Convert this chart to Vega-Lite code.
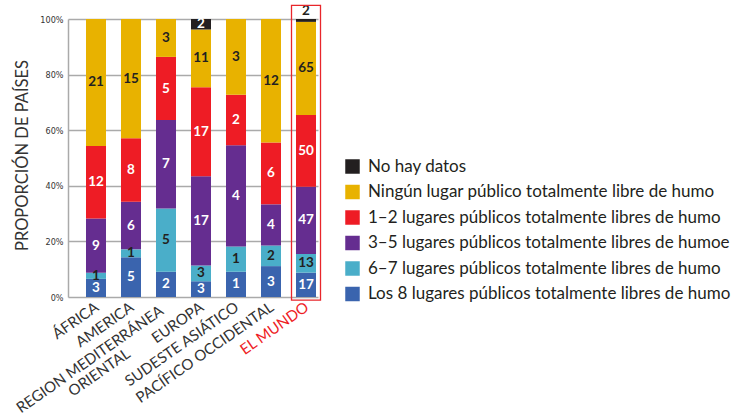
{
  "$schema": "https://vega.github.io/schema/vega-lite/v6.json",
  "width": 250,
  "height": 278,
  "autosize": {"type": "none"},
  "padding": {"left": 68, "top": 19, "right": 431, "bottom": 118},
  "background": "white",
  "config": {
    "font": "Lato",
    "view": {"stroke": null},
    "legend": {
      "orient": "none",
      "legendX": 276,
      "legendY": 139,
      "padding": 0,
      "symbolType": "square",
      "symbolSize": 210,
      "symbolStrokeWidth": 0,
      "symbolOpacity": 1,
      "labelFont": "Lato",
      "labelFontSize": 17,
      "labelColor": "#231f20",
      "labelOffset": 7,
      "labelLimit": 600,
      "rowPadding": 7.5
    }
  },
  "datasets": {
    "main": [
      {"region": "ÁFRICA", "cat": "Los 8 lugares públicos totalmente libres de humo", "ord": 1, "count": 3},
      {"region": "ÁFRICA", "cat": "6–7 lugares públicos totalmente libres de humo", "ord": 2, "count": 1},
      {"region": "ÁFRICA", "cat": "3–5 lugares públicos totalmente libres de humoe", "ord": 3, "count": 9},
      {"region": "ÁFRICA", "cat": "1–2 lugares públicos totalmente libres de humo", "ord": 4, "count": 12},
      {"region": "ÁFRICA", "cat": "Ningún lugar público totalmente libre de humo", "ord": 5, "count": 21},
      {"region": "AMERICA", "cat": "Los 8 lugares públicos totalmente libres de humo", "ord": 1, "count": 5},
      {"region": "AMERICA", "cat": "6–7 lugares públicos totalmente libres de humo", "ord": 2, "count": 1},
      {"region": "AMERICA", "cat": "3–5 lugares públicos totalmente libres de humoe", "ord": 3, "count": 6},
      {"region": "AMERICA", "cat": "1–2 lugares públicos totalmente libres de humo", "ord": 4, "count": 8},
      {"region": "AMERICA", "cat": "Ningún lugar público totalmente libre de humo", "ord": 5, "count": 15},
      {"region": "REGION MEDITERRÁNEA ORIENTAL", "cat": "Los 8 lugares públicos totalmente libres de humo", "ord": 1, "count": 2},
      {"region": "REGION MEDITERRÁNEA ORIENTAL", "cat": "6–7 lugares públicos totalmente libres de humo", "ord": 2, "count": 5},
      {"region": "REGION MEDITERRÁNEA ORIENTAL", "cat": "3–5 lugares públicos totalmente libres de humoe", "ord": 3, "count": 7},
      {"region": "REGION MEDITERRÁNEA ORIENTAL", "cat": "1–2 lugares públicos totalmente libres de humo", "ord": 4, "count": 5},
      {"region": "REGION MEDITERRÁNEA ORIENTAL", "cat": "Ningún lugar público totalmente libre de humo", "ord": 5, "count": 3},
      {"region": "EUROPA", "cat": "Los 8 lugares públicos totalmente libres de humo", "ord": 1, "count": 3},
      {"region": "EUROPA", "cat": "6–7 lugares públicos totalmente libres de humo", "ord": 2, "count": 3},
      {"region": "EUROPA", "cat": "3–5 lugares públicos totalmente libres de humoe", "ord": 3, "count": 17},
      {"region": "EUROPA", "cat": "1–2 lugares públicos totalmente libres de humo", "ord": 4, "count": 17},
      {"region": "EUROPA", "cat": "Ningún lugar público totalmente libre de humo", "ord": 5, "count": 11},
      {"region": "EUROPA", "cat": "No hay datos", "ord": 6, "count": 2},
      {"region": "SUDESTE ASIÁTICO", "cat": "Los 8 lugares públicos totalmente libres de humo", "ord": 1, "count": 1},
      {"region": "SUDESTE ASIÁTICO", "cat": "6–7 lugares públicos totalmente libres de humo", "ord": 2, "count": 1},
      {"region": "SUDESTE ASIÁTICO", "cat": "3–5 lugares públicos totalmente libres de humoe", "ord": 3, "count": 4},
      {"region": "SUDESTE ASIÁTICO", "cat": "1–2 lugares públicos totalmente libres de humo", "ord": 4, "count": 2},
      {"region": "SUDESTE ASIÁTICO", "cat": "Ningún lugar público totalmente libre de humo", "ord": 5, "count": 3},
      {"region": "PACÍFICO OCCIDENTAL", "cat": "Los 8 lugares públicos totalmente libres de humo", "ord": 1, "count": 3},
      {"region": "PACÍFICO OCCIDENTAL", "cat": "6–7 lugares públicos totalmente libres de humo", "ord": 2, "count": 2},
      {"region": "PACÍFICO OCCIDENTAL", "cat": "3–5 lugares públicos totalmente libres de humoe", "ord": 3, "count": 4},
      {"region": "PACÍFICO OCCIDENTAL", "cat": "1–2 lugares públicos totalmente libres de humo", "ord": 4, "count": 6},
      {"region": "PACÍFICO OCCIDENTAL", "cat": "Ningún lugar público totalmente libre de humo", "ord": 5, "count": 12},
      {"region": "EL MUNDO", "cat": "Los 8 lugares públicos totalmente libres de humo", "ord": 1, "count": 17},
      {"region": "EL MUNDO", "cat": "6–7 lugares públicos totalmente libres de humo", "ord": 2, "count": 13},
      {"region": "EL MUNDO", "cat": "3–5 lugares públicos totalmente libres de humoe", "ord": 3, "count": 47},
      {"region": "EL MUNDO", "cat": "1–2 lugares públicos totalmente libres de humo", "ord": 4, "count": 50},
      {"region": "EL MUNDO", "cat": "Ningún lugar público totalmente libre de humo", "ord": 5, "count": 65},
      {"region": "EL MUNDO", "cat": "No hay datos", "ord": 6, "count": 2}
    ]
  },
  "encoding": {
    "x": {
      "field": "region",
      "type": "nominal",
      "title": null,
      "scale": {
        "domain": ["ÁFRICA", "AMERICA", "REGION MEDITERRÁNEA ORIENTAL", "EUROPA", "SUDESTE ASIÁTICO", "PACÍFICO OCCIDENTAL", "EL MUNDO"],
        "paddingInner": 0.4286,
        "paddingOuter": 0.2857,
        "align": 0.9
      },
      "axis": {
        "labelAngle": -35,
        "labelAlign": {"condition": {"test": "datum.value === 'REGION MEDITERRÁNEA ORIENTAL'", "value": "center"}, "value": "right"},
        "labelBaseline": {"condition": {"test": "datum.value === 'REGION MEDITERRÁNEA ORIENTAL'", "value": "top"}, "value": "middle"},
        "labelOffset": {"condition": {"test": "datum.value === 'REGION MEDITERRÁNEA ORIENTAL'", "value": -80}, "value": 1},
        "labelPadding": {"condition": {"test": "datum.value === 'REGION MEDITERRÁNEA ORIENTAL'", "value": 56}, "value": 8},
        "labelFont": "Lato",
        "labelFontSize": 15,
        "labelLineHeight": 16,
        "labelColor": {"condition": {"test": "datum.value === 'EL MUNDO'", "value": "#ee1c25"}, "value": "#333333"},
        "labelExpr": "datum.value === 'REGION MEDITERRÁNEA ORIENTAL' ? ['REGION MEDITERRÁNEA', 'ORIENTAL'] : datum.label",
        "domain": false,
        "ticks": false,
        "grid": false
      }
    }
  },
  "layer": [
    {
      "data": {"name": "main"},
      "mark": {"type": "bar"},
      "encoding": {
        "y": {
          "field": "count",
          "type": "quantitative",
          "stack": "normalize",
          "title": "PROPORCIÓN DE PAÍSES",
          "scale": {"domain": [0, 1], "nice": false},
          "axis": {
            "values": [0, 0.2, 0.4, 0.6, 0.8, 1],
            "format": ".0%",
            "labelFont": "DejaVu Sans Condensed",
            "labelFontSize": 9,
            "labelColor": "#333333",
            "labelPadding": 5,
            "ticks": false,
            "domainColor": "#aaaaaa",
            "domainWidth": 1.5,
            "gridColor": "#aaaaaa",
            "gridWidth": 1.5,
            "titleFont": "Lato",
            "titleFontSize": 16.5,
            "titleFontWeight": "normal",
            "titleColor": "#333333",
            "titleAngle": -90,
            "titleAlign": "center",
            "titleBaseline": "alphabetic",
            "titleX": -41,
            "titleY": 136
          }
        },
        "color": {
          "field": "cat",
          "type": "nominal",
          "title": null,
          "scale": {
            "domain": ["No hay datos", "Ningún lugar público totalmente libre de humo", "1–2 lugares públicos totalmente libres de humo", "3–5 lugares públicos totalmente libres de humoe", "6–7 lugares públicos totalmente libres de humo", "Los 8 lugares públicos totalmente libres de humo"],
            "range": ["#231f20", "#e8b200", "#ee1c25", "#652d90", "#4aaec9", "#3a64ae"]
          }
        },
        "order": {"field": "ord", "type": "quantitative"}
      }
    },
    {
      "data": {"name": "main"},
      "mark": {"type": "text", "font": "Lato", "fontWeight": "bold", "fontSize": 13.5, "baseline": "middle", "align": "center"},
      "encoding": {
        "y": {"field": "count", "type": "quantitative", "stack": "normalize", "bandPosition": 0.5, "title": "PROPORCIÓN DE PAÍSES"},
        "order": {"field": "ord", "type": "quantitative"},
        "text": {"condition": {"test": "datum.region === 'EL MUNDO' && datum.ord === 6", "value": ""}, "field": "count", "type": "quantitative"},
        "color": {"condition": {"test": "datum.ord === 5 || datum.ord === 2", "value": "#231f20"}, "value": "#ffffff"}
      }
    },
    {
      "data": {"name": "main"},
      "mark": {"type": "text", "font": "Lato", "fontWeight": "bold", "fontSize": 13.5, "baseline": "middle", "align": "center", "dy": -8},
      "encoding": {
        "y": {"field": "count", "type": "quantitative", "stack": "normalize", "title": "PROPORCIÓN DE PAÍSES"},
        "order": {"field": "ord", "type": "quantitative"},
        "text": {"condition": {"test": "datum.region === 'EL MUNDO' && datum.ord === 6", "field": "count", "type": "quantitative"}, "value": ""},
        "color": {"value": "#231f20"}
      }
    },
    {
      "data": {"values": [{"region": "EL MUNDO"}]},
      "mark": {"type": "bar", "fill": "transparent", "stroke": "#e8262b", "strokeWidth": 1.3, "width": {"band": 1.45}},
      "encoding": {
        "y": {"datum": -0.011, "type": "quantitative", "title": "PROPORCIÓN DE PAÍSES"},
        "y2": {"datum": 1.049}
      }
    }
  ]
}
